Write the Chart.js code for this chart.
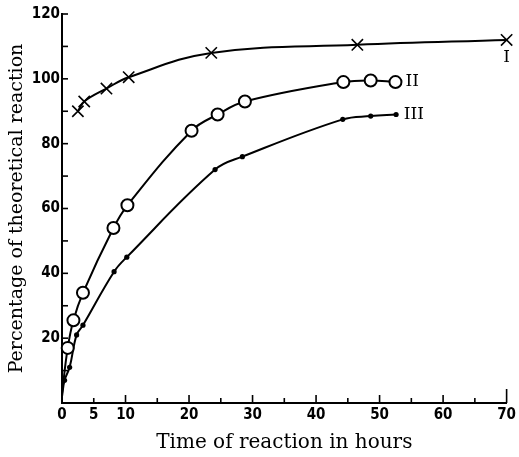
<!DOCTYPE html>
<html><head><meta charset="utf-8">
<script src="https://cdn.jsdelivr.net/npm/chart.js@4/dist/chart.umd.min.js"></script>
<style>html,body{margin:0;padding:0;background:#fff}#wrap{width:519px;height:457px}</style>
</head><body><div id="wrap"><canvas id="c" width="519" height="457"></canvas></div>
<script>
// ---- data ----
const hoursI   = [2.5, 3.5, 7, 10.5, 23.5, 46.5, 70];
const pctI     = [90, 93, 97, 100.5, 108, 110.5, 112];
const hoursII  = [0, 0.9, 1.8, 3.3, 8.1, 10.3, 20.4, 24.5, 28.8, 44.3, 48.6, 52.5];
const pctII    = [3, 17, 25.5, 34, 54, 61, 84, 89, 93, 99, 99.5, 99];
const hoursIII = [0, 0.4, 1.2, 2.3, 3.3, 8.2, 10.2, 24.1, 28.4, 44.2, 48.6, 52.6];
const pctIII   = [2, 7, 11, 21, 24, 40.5, 45, 72, 76, 87.5, 88.5, 89];
const seriesNames = ['I', 'II', 'III'];
const xTickLabels = [0, 5, 10, 20, 30, 40, 50, 60, 70];
const yTickLabels = [20, 40, 60, 80, 100, 120];
const xTitle = 'Time of reaction in hours';
const yTitle = 'Percentage of theoretical reaction';

// ---- layout / style ----
const nameAnchors = [
  {x: 70, y: 106.5, align: 'center'},
  {x: 54.1, y: 99, align: 'left'},
  {x: 53.8, y: 89, align: 'left'}
];
const toPts = (xs, ys) => xs.map((x, i) => ({x, y: ys[i]}));
const radii = (xs, r) => xs.map(x => x === 0 ? 0 : r);

const tickPlugin = {
  id: 'inwardTicks',
  afterDraw(chart) {
    const ctx = chart.ctx, xs = chart.scales.x, ys = chart.scales.y;
    const a = chart.chartArea;
    ctx.save();
    ctx.strokeStyle = '#000';
    ctx.lineWidth = 1.6;
    for (let v = 5; v <= 70; v += 5) {
      const px = xs.getPixelForValue(v);
      const len = v === 70 ? 14 : (v % 10 === 0 ? 8 : 5);
      ctx.beginPath(); ctx.moveTo(px, a.bottom); ctx.lineTo(px, a.bottom - len); ctx.stroke();
    }
    for (let v = 10; v <= 120; v += 10) {
      const py = ys.getPixelForValue(v);
      ctx.beginPath(); ctx.moveTo(a.left, py); ctx.lineTo(a.left + 6, py); ctx.stroke();
    }
    ctx.fillStyle = '#000';
    ctx.font = '17px "DejaVu Serif"';
    ctx.textBaseline = 'middle';
    seriesNames.forEach((n, i) => {
      const an = nameAnchors[i];
      ctx.textAlign = an.align;
      ctx.fillText(n, xs.getPixelForValue(an.x), ys.getPixelForValue(an.y));
    });
    ctx.restore();
  }
};

const tickFont = {family: '"DejaVu Sans Condensed", "DejaVu Sans"', size: 15, weight: 'bold'};

new Chart(document.getElementById('c'), {
  type: 'scatter',
  data: {
    datasets: [
      {label: seriesNames[0], data: toPts(hoursI, pctI), showLine: true, tension: 0.4,
       borderColor: '#000', borderWidth: 2, pointStyle: 'crossRot', pointRadius: 8, pointBorderWidth: 1.6,
       pointBorderColor: '#000', pointBackgroundColor: '#000', clip: false},
      {label: seriesNames[1], data: toPts(hoursII, pctII), showLine: true, tension: 0.4,
       borderColor: '#000', borderWidth: 2, pointStyle: 'circle', pointRadius: radii(hoursII, 6), pointBorderWidth: 2,
       pointBorderColor: '#000', pointBackgroundColor: '#fff', clip: false},
      {label: seriesNames[2], data: toPts(hoursIII, pctIII), showLine: true, tension: 0.4,
       borderColor: '#000', borderWidth: 2, pointStyle: 'circle', pointRadius: radii(hoursIII, 2.6), pointBorderWidth: 0,
       pointBorderColor: '#000', pointBackgroundColor: '#000', clip: false}
    ]
  },
  options: {
    responsive: false, animation: false, devicePixelRatio: 1,
    layout: {padding: {top: 14, right: 10, left: 0, bottom: 0}},
    plugins: {legend: {display: false}, tooltip: {enabled: false}},
    elements: {point: {hoverRadius: 0}},
    scales: {
      x: {
        type: 'linear', min: 0, max: 70,
        afterFit: s => { s.height = 54; },
        grid: {display: false, drawTicks: false},
        border: {display: true, color: '#000', width: 2},
        ticks: {stepSize: 5, padding: 3, color: '#000', font: tickFont, maxRotation: 0,
                callback: v => xTickLabels.includes(v) ? String(v) : ''},
        title: {display: true, text: xTitle, color: '#000', font: {family: '"DejaVu Serif"', size: 20}, padding: {top: 0, bottom: 2}}
      },
      y: {
        type: 'linear', min: 0, max: 120,
        afterFit: s => { s.width = 62; },
        grid: {display: false, drawTicks: false},
        border: {display: true, color: '#000', width: 2},
        ticks: {stepSize: 10, padding: 2, color: '#000', font: tickFont,
                callback: v => yTickLabels.includes(v) ? String(v) : ''},
        title: {display: true, text: yTitle, color: '#000', font: {family: '"DejaVu Serif"', size: 19}, padding: {top: 6, bottom: 0}}
      }
    }
  },
  plugins: [tickPlugin]
});
</script></body></html>
